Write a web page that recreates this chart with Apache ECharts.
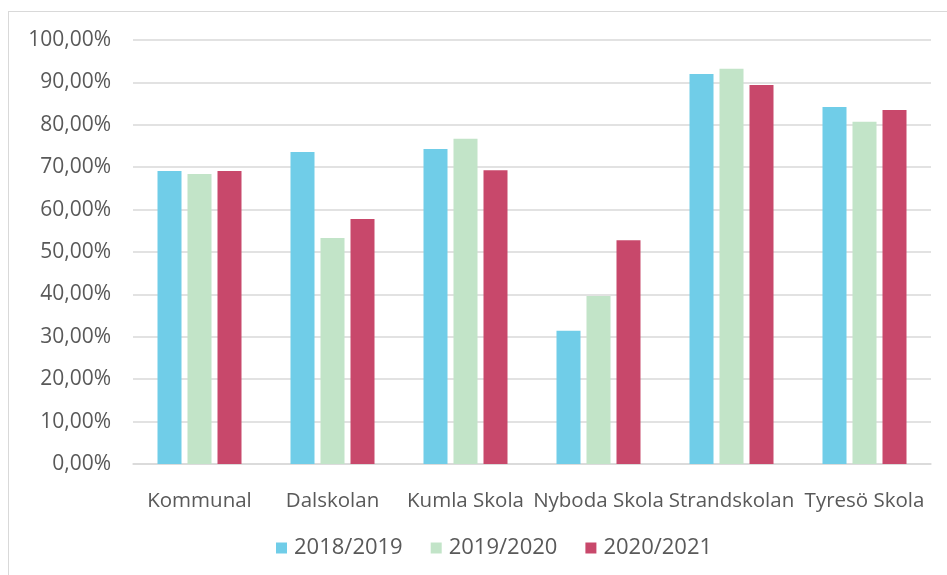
<!DOCTYPE html>
<html>
<head>
    <meta charset="UTF-8"/>
    <title>Skolor</title>
    <script src="https://cdn.jsdelivr.net/npm/echarts@6/dist/echarts.min.js"></script>
    <style>
        body { margin: 0; background: #fff; }
        #main { width: 947px; height: 575px; }
        #frame { position: absolute; left: 8px; top: 11px; width: 960px; height: 600px; border: 1px solid #d9d9d9; }
    </style>
</head>
<body>
<div id="frame"></div>
<div id="main" style="position:absolute;left:0;top:0;"></div>
<script>
    var schools = ['Kommunal', 'Dalskolan', 'Kumla Skola', 'Nyboda Skola', 'Strandskolan', 'Tyresö Skola'];
    var y2018 = [69.1, 73.6, 74.3, 31.4, 92.0, 84.2];
    var y2019 = [68.4, 53.3, 76.7, 39.6, 93.2, 80.7];
    var y2020 = [69.1, 57.8, 69.3, 52.8, 89.4, 83.5];

    var font = 'Open Sans';
    var txt = '#595959';

    let myChart = echarts.init(document.getElementById('main'));
    let option = {
        animation: false,
        grid: { left: 133, right: 16, top: 40, bottom: 111 },
        legend: {
            left: 271, bottom: 11,
            itemWidth: 11, itemHeight: 11, itemGap: 28,
            icon: 'rect',
            textStyle: { fontFamily: font, fontSize: 22, color: txt, padding: [0, 0, 0, 2] },
            data: ['2018/2019', '2019/2020', '2020/2021']
        },
        xAxis: {
            type: 'category',
            data: schools,
            axisTick: { show: false },
            axisLine: { lineStyle: { color: '#d9d9d9', width: 1.5 } },
            axisLabel: { fontFamily: font, fontSize: 20.5, color: txt, margin: 27, interval: 0 }
        },
        yAxis: {
            type: 'value',
            min: 0, max: 100, interval: 10,
            axisLabel: {
                fontFamily: font, fontSize: 21, color: txt, margin: 22,
                formatter: function (v) { return v.toFixed(2).replace('.', ',') + '%'; }
            },
            splitLine: { lineStyle: { color: '#d9d9d9', width: 1.5 } }
        },
        series: [{
            name: '2018/2019', type: 'bar', data: y2018,
            barWidth: 24, barGap: '25%',
            itemStyle: { color: '#70CDE8' }
        }, {
            name: '2019/2020', type: 'bar', data: y2019,
            barWidth: 24, barGap: '25%',
            itemStyle: { color: '#C2E4C8' }
        }, {
            name: '2020/2021', type: 'bar', data: y2020,
            barWidth: 24, barGap: '25%',
            itemStyle: { color: '#C8486B' }
        }]
    };
    myChart.setOption(option);
</script>
</body>
</html>
